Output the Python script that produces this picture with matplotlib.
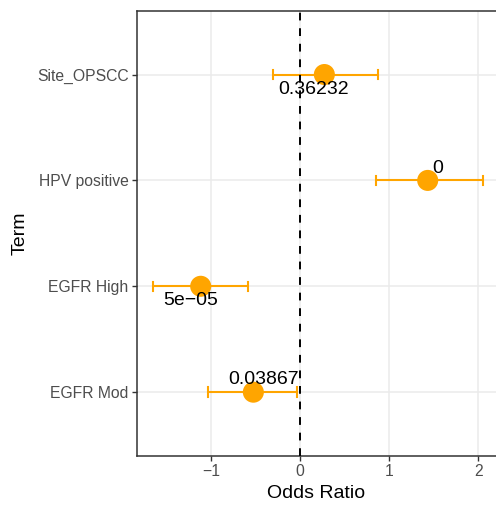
import matplotlib
matplotlib.use("Agg")
import matplotlib.pyplot as plt

plt.rcParams["font.family"] = ["Liberation Sans", "DejaVu Sans"]

# model terms, estimates, confidence bounds and p-values
terms = ["EGFR Mod", "EGFR High", "HPV positive", "Site_OPSCC"]
estimate = [-0.524, -1.115, 1.433, 0.273]
ci_low = [-1.033, -1.653, 0.853, -0.300]
ci_high = [-0.037, -0.580, 2.058, 0.879]
p_label = ["0.03867", "5e\u221205", "0", "0.36232"]

# label offsets in pixels (dx, dy), one per term
label_offsets = [(10, 13), (-10, -14), (10, 12), (-11, -15)]

ORANGE = "#FFA500"

fig = plt.figure(figsize=(4.96, 5.05), dpi=100)
ax = fig.add_axes([137 / 496, 1 - 455.7 / 505, 1 - 137 / 496 + 0.02, (455.7 - 11) / 505])

ypos = list(range(1, len(terms) + 1))

ax.grid(True, color="#EBEBEB", linewidth=1.1, zorder=0)
ax.set_axisbelow(True)

for y, lo, hi in zip(ypos, ci_low, ci_high):
    ax.plot([lo, hi], [y, y], color=ORANGE, linewidth=1.5, zorder=2, solid_capstyle="butt")
    for x in (lo, hi):
        ax.plot([x, x], [y - 0.045, y + 0.045], color=ORANGE, linewidth=1.5, zorder=2)

ax.scatter(estimate, ypos, s=230, color=ORANGE, edgecolors="none", zorder=3)

ax.axvline(0, color="black", linestyle=(0, (4, 4)), linewidth=1.4, zorder=4)

px = 72 / 100
for x, y, txt, (dx, dy) in zip(estimate, ypos, p_label, label_offsets):
    ax.annotate(txt, (x, y), xytext=(dx * px, dy * px), textcoords="offset points",
                ha="center", va="center", fontsize=14, color="black", zorder=5)

# panel runs past the right edge of the figure
ax.set_xlim(-1.83, 2.311)
ax.set_ylim(0.4, 4.6)
ax.set_xticks([-1, 0, 1, 2])
ax.set_xticklabels(["\u22121", "0", "1", "2"])
ax.set_yticks(ypos)
ax.set_yticklabels(terms)

ax.tick_params(axis="both", colors="#333333", labelcolor="#4D4D4D", labelsize=11.3,
               length=3.5, width=1.0)
ax.tick_params(axis="y", pad=2.5)
ax.tick_params(axis="x", pad=2.5)

for side in ("left", "bottom", "top", "right"):
    ax.spines[side].set_color("#333333")
    ax.spines[side].set_linewidth(1.1)

ax.set_xlabel("Odds Ratio", fontsize=14, labelpad=4)
ax.xaxis.set_label_coords((316.5 - 137) / (496 * (1 - 137 / 496 + 0.02)), -0.065)
ax.set_ylabel("Term", fontsize=14, labelpad=6)

fig.savefig("out.png", dpi=100)
